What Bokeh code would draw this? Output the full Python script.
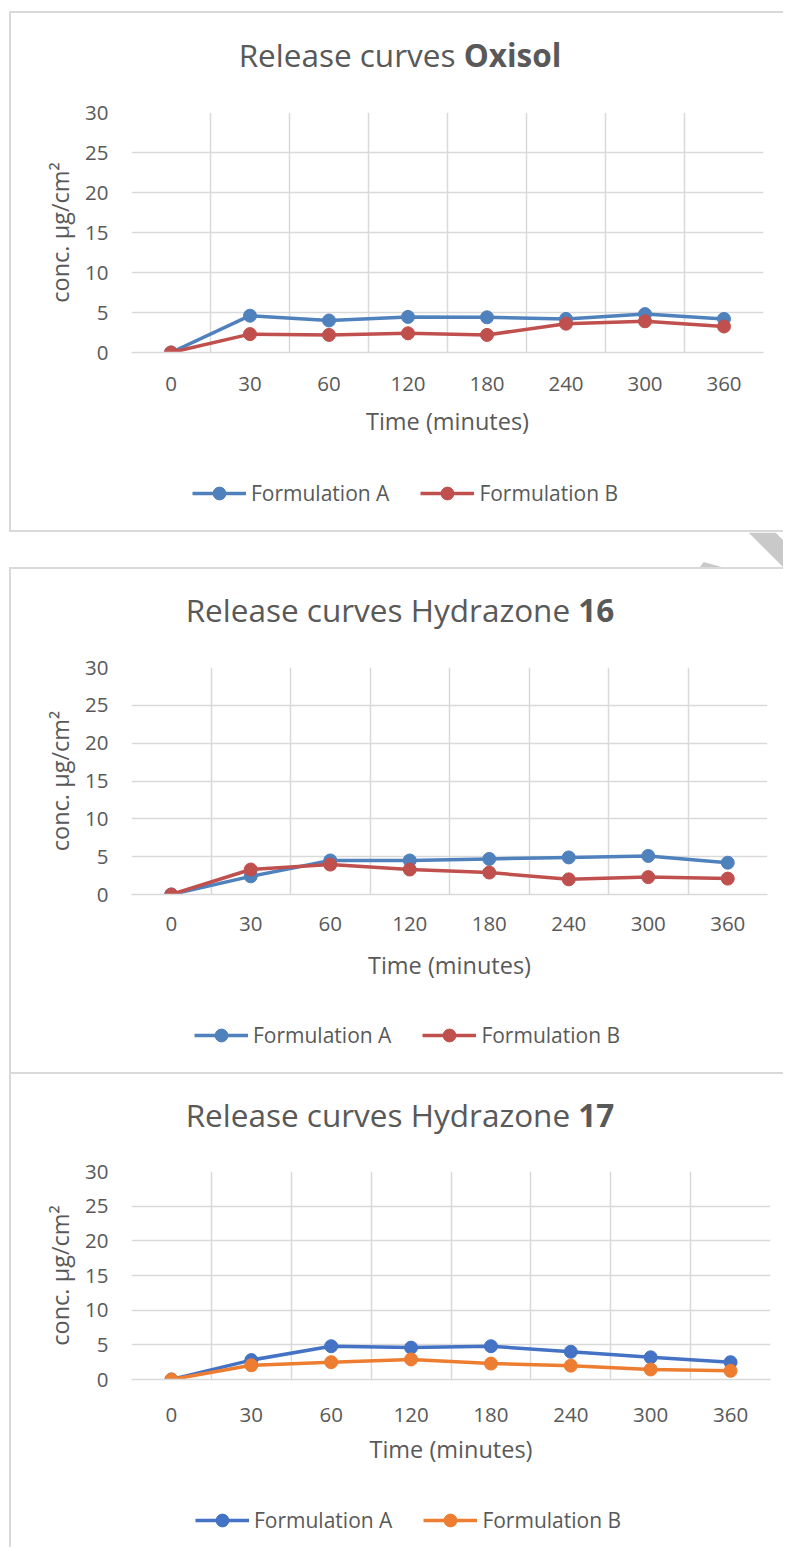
from bokeh.plotting import figure
from bokeh.models import Range1d, FixedTicker, Legend, LegendItem, Div
from bokeh.layouts import column
from bokeh.embed import file_html
from bokeh.resources import INLINE

# ---------------- data ----------------
times = ["0", "30", "60", "120", "180", "240", "300", "360"]
y_ticks = [0, 5, 10, 15, 20, 25, 30]

oxisol_a = [0, 4.6, 4.0, 4.45, 4.4, 4.2, 4.8, 4.2]
oxisol_b = [0, 2.3, 2.2, 2.4, 2.2, 3.6, 3.9, 3.25]

hyd16_a = [0, 2.4, 4.5, 4.5, 4.7, 4.9, 5.1, 4.2]
hyd16_b = [0, 3.3, 3.95, 3.3, 2.9, 2.0, 2.3, 2.1]

hyd17_a = [0, 2.8, 4.8, 4.6, 4.8, 4.0, 3.2, 2.5]
hyd17_b = [0, 2.05, 2.5, 2.9, 2.3, 2.0, 1.45, 1.25]

series_names = ["Formulation A", "Formulation B"]
x_title = "Time (minutes)"
y_title = "conc. µg/cm²"

# decorative grey page artefact between chart 1 and chart 2 (page pixels)
deco_xs = [[750, 777, 785, 785], [700, 705, 728]]
deco_ys = [[532, 532, 540, 567], [568, 561.5, 568]]

# ---------------- style ----------------
TXT = "#595959"
GRID = "#D9D9D9"
FONT = "Open Sans"
W = 772
FRAME_LEFT = 120
BORDER = "2px solid #D9D9D9"


def make_chart(title_main, title_bold, ser_a, ser_b, col_a, col_b,
               title_h, title_pad, mtop, frame_w, frame_h, mbot,
               tick_standoff, title_standoff, leg_h, leg_xy, borders):
    n = len(times)
    xs = list(range(n))

    title = Div(text=(f'<div style="width:{W}px;padding-top:{title_pad}px;padding-left:6px;'
                      f'box-sizing:border-box;text-align:center;font-family:\'{FONT}\';'
                      f'font-size:31.5px;line-height:1.362;color:{TXT};white-space:nowrap;">'
                      f'{title_main} <b>{title_bold}</b></div>'),
                width=W, height=title_h, margin=0)

    p = figure(x_range=Range1d(-0.5, n - 0.5), y_range=Range1d(0, 30),
               frame_width=frame_w, frame_height=frame_h,
               min_border_left=FRAME_LEFT, min_border_top=mtop,
               min_border_right=W - FRAME_LEFT - frame_w, min_border_bottom=mbot,
               output_backend="svg", toolbar_location=None, margin=0)
    p.outline_line_color = None

    p.xaxis.ticker = FixedTicker(ticks=xs)
    p.xaxis.major_label_overrides = {i: t for i, t in enumerate(times)}
    p.yaxis.ticker = FixedTicker(ticks=y_ticks)
    for ax in (p.xaxis[0], p.yaxis[0]):
        ax.major_tick_line_color = None
        ax.minor_tick_line_color = None
        ax.major_tick_out = 0
        ax.major_tick_in = 0
        ax.major_label_text_font = FONT
        ax.major_label_text_font_size = "20.5px"
        ax.major_label_text_color = TXT
        ax.axis_label_text_font = FONT
        ax.axis_label_text_font_size = "23.5px"
        ax.axis_label_text_font_style = "normal"
        ax.axis_label_text_color = TXT
    p.xaxis.axis_label = x_title
    p.yaxis.axis_label = y_title
    p.xaxis.major_label_standoff = tick_standoff
    p.yaxis.major_label_standoff = 23
    p.xaxis.axis_label_standoff = title_standoff
    p.yaxis.axis_label_standoff = 6
    p.yaxis.axis_line_color = None
    p.xaxis.axis_line_color = GRID
    p.xaxis.axis_line_width = 1.5

    p.xgrid.ticker = FixedTicker(ticks=[i - 0.5 for i in range(n + 1)])
    p.ygrid.ticker = FixedTicker(ticks=y_ticks)
    p.xgrid.grid_line_color = GRID
    p.ygrid.grid_line_color = GRID
    p.xgrid.grid_line_width = 1.5
    p.ygrid.grid_line_width = 1.5

    # legend strip (its renderers mirror the series but lie outside this strip's ranges)
    lf = figure(width=W, height=leg_h, x_range=Range1d(-100, -99), y_range=Range1d(-100, -99),
                x_axis_type=None, y_axis_type=None,
                min_border_left=FRAME_LEFT, min_border_right=W - FRAME_LEFT - frame_w,
                min_border_top=0, min_border_bottom=0,
                output_backend="svg", toolbar_location=None, margin=0)
    lf.outline_line_color = None
    lf.grid.visible = False

    items = []
    for name, ser, col in ((series_names[0], ser_a, col_a), (series_names[1], ser_b, col_b)):
        p.line(xs, ser, line_color=col, line_width=3.5)
        p.scatter(xs, ser, size=13, fill_color=col, line_color=col)
        lr = lf.line(xs, ser, line_color=col, line_width=3.5)
        sr = lf.scatter(xs, ser, size=13, fill_color=col, line_color=col)
        items.append(LegendItem(label=name, renderers=[lr, sr]))

    legend = Legend(items=items, location=leg_xy, orientation="horizontal",
                    glyph_width=54, glyph_height=32, label_standoff=5, spacing=31,
                    padding=0, margin=0, border_line_color=None,
                    background_fill_alpha=0, label_text_font=FONT,
                    label_text_font_size="21px", label_text_color=TXT)
    lf.add_layout(legend)

    st = {}
    for b in borders:
        st["border-" + b] = BORDER
    return column(title, p, lf, spacing=0, styles=st)


c1 = make_chart("Release curves", "Oxisol", oxisol_a, oxisol_b, "#4F81BD", "#C0504D",
                70, 21, 29, 632, 240, 100, 24, 11, 78, (61, 21), ["top", "left", "bottom"])
c1.margin = (11, 0, 0, 9)

spacer = figure(width=W + 2, height=35, x_range=Range1d(9, 785), y_range=Range1d(567, 532),
                x_axis_type=None, y_axis_type=None, min_border=0,
                output_backend="svg", toolbar_location=None)
spacer.outline_line_color = None
spacer.grid.visible = False
spacer.patches(deco_xs, deco_ys, fill_color="#C9C9C9", line_color=None)
spacer.margin = (0, 0, 0, 9)

c2 = make_chart("Release curves Hydrazone", "16", hyd16_a, hyd16_b, "#4F81BD", "#C0504D",
                70, 20, 28, 636, 227, 100, 22, 15, 78, (63, 21), ["top", "left"])
c2.margin = (0, 0, 0, 9)

c3 = make_chart("Release curves Hydrazone", "17", hyd17_a, hyd17_b, "#4472C4", "#ED7D31",
                70, 20, 27, 639, 208, 100, 28, 8, 68, (64, 11), ["top", "left"])
c3.margin = (0, 0, 0, 9)

layout = column(c1, spacer, c2, c3, spacing=0)

open("out.html", "w").write(file_html(layout, INLINE))
